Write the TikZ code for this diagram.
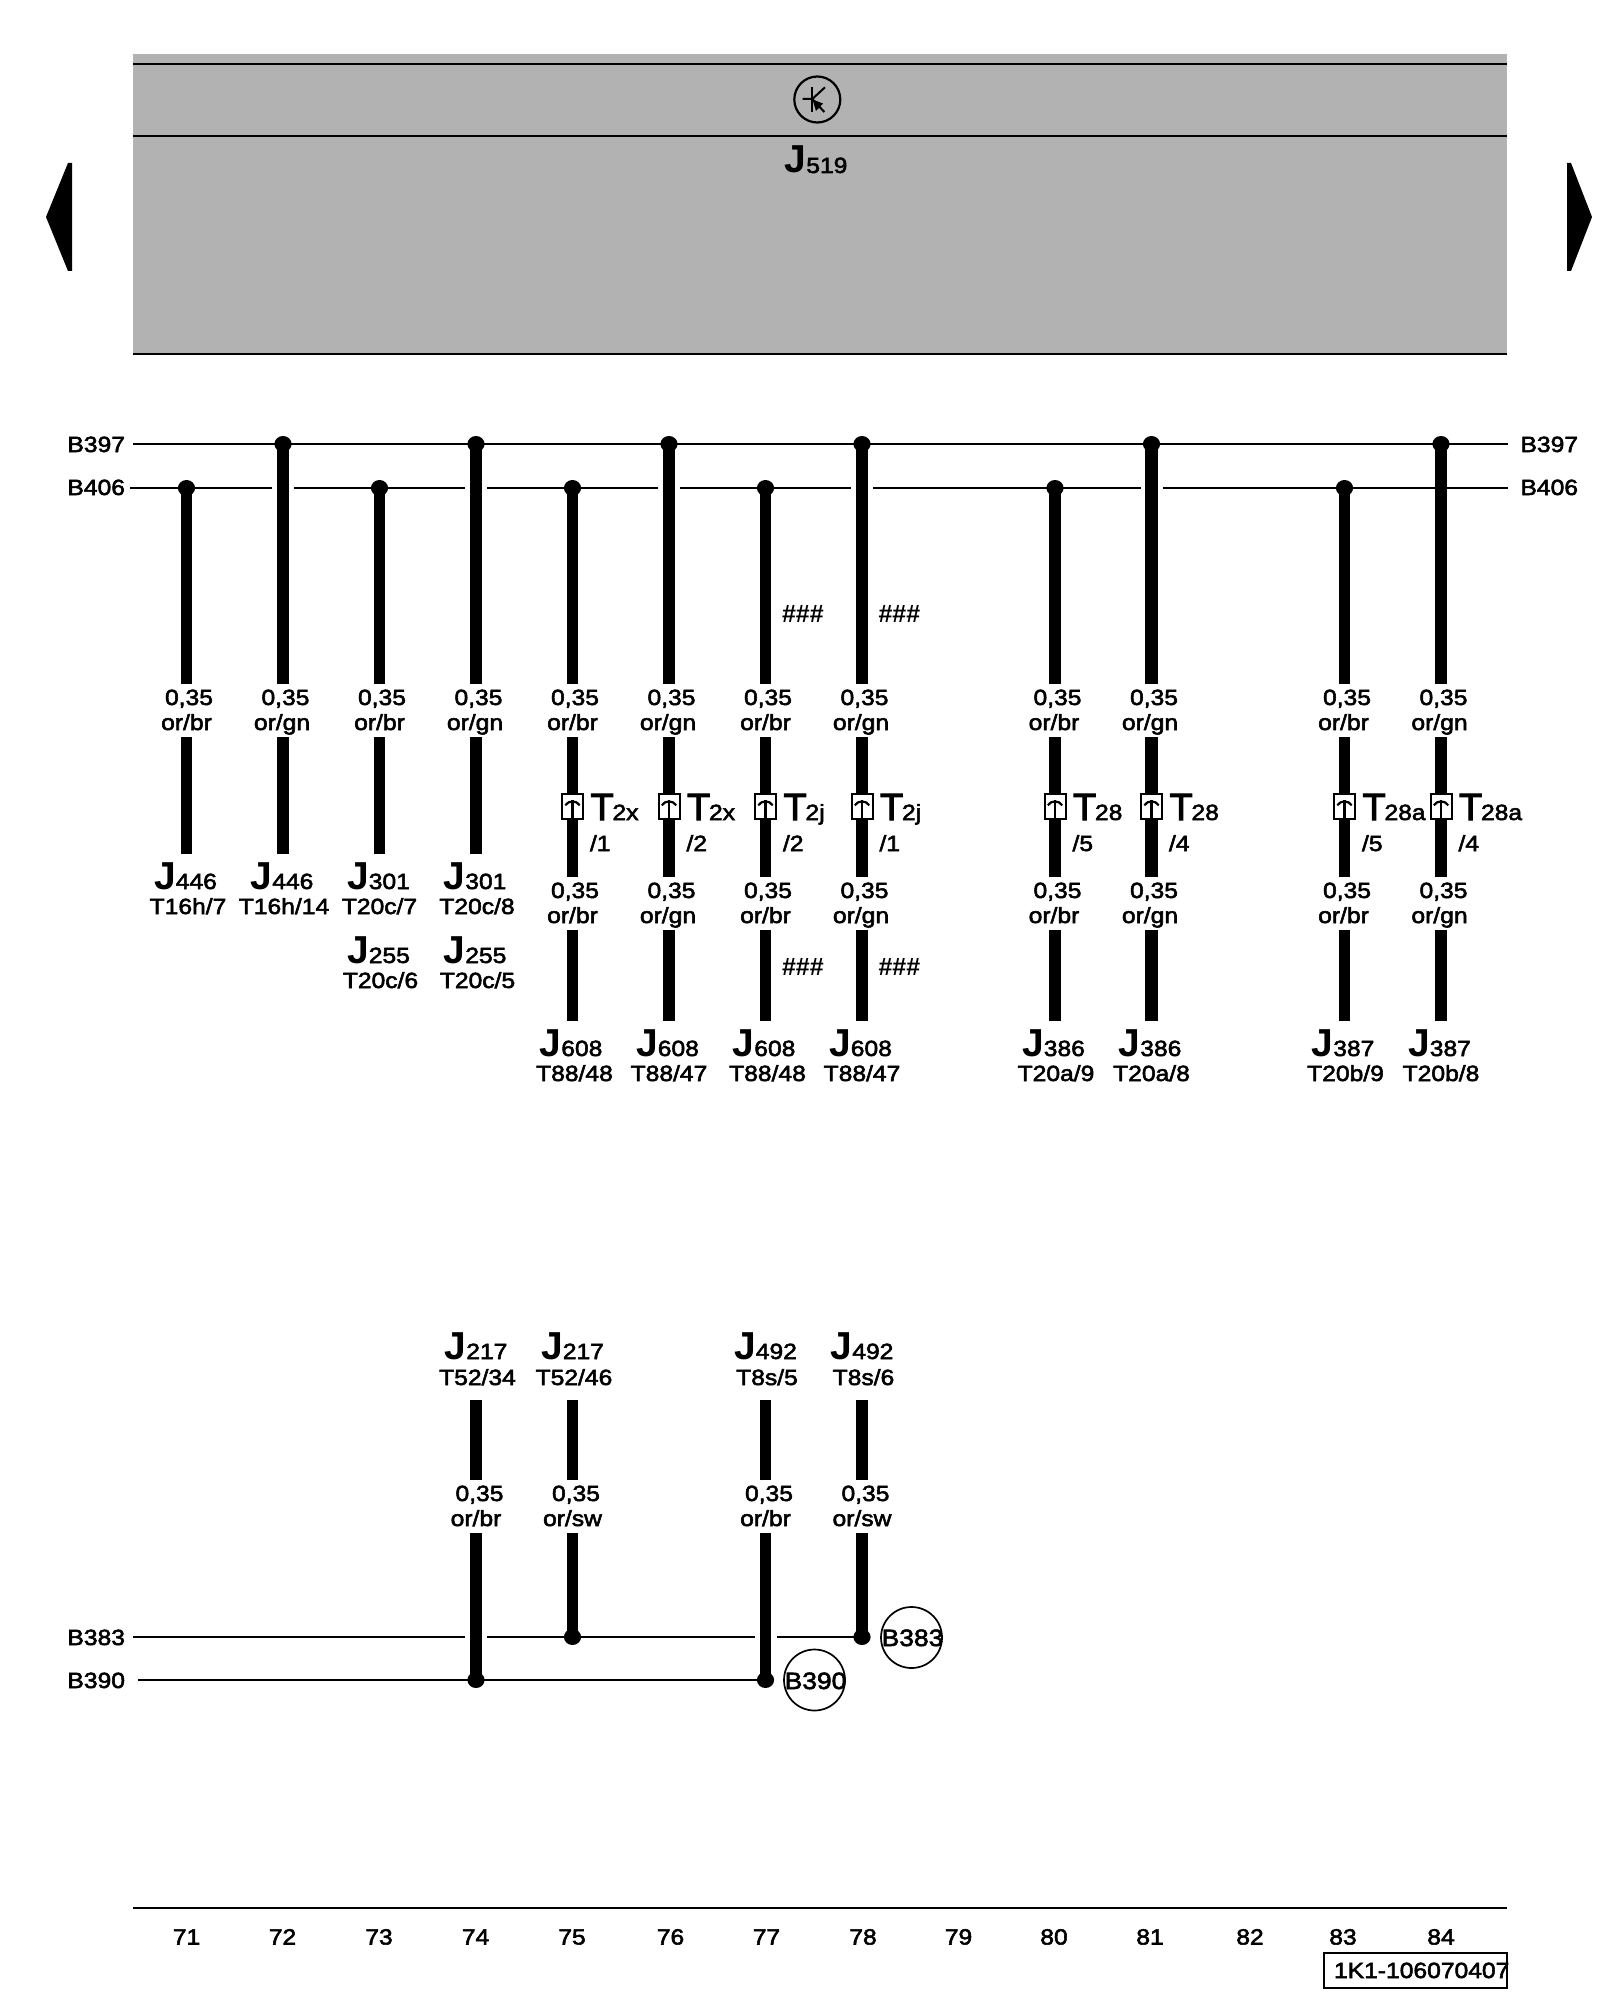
\documentclass[tikz,border=0pt]{standalone}
\usepackage{fontspec}
\setmainfont{Liberation Sans}
\newfontfamily\wfam[FakeStretch=1.12,FakeBold=2.5]{Liberation Sans}
\newfontfamily\hfam{Liberation Sans Bold}
\newfontfamily\jfam{Liberation Sans Bold}
\newfontfamily\tfam[FakeBold=3]{Liberation Sans}
\newcommand{\smalltxt}{\wfam\fontsize{11pt}{12pt}\selectfont}
\newcommand{\hashtxt}{\hfam\fontsize{12.5pt}{13pt}\selectfont}
\newcommand{\bigJ}[1]{{\jfam\fontsize{19.5pt}{20pt}\selectfont J}{\smalltxt #1}}
\newcommand{\bigT}{\tfam\fontsize{19pt}{20pt}\selectfont T}
\definecolor{panelgray}{HTML}{B2B2B2}
\usetikzlibrary{shapes.geometric}
\tikzset{
  lab/.style={inner sep=0pt,outer sep=0pt,font=\smalltxt,anchor=base},
  labl/.style={lab,anchor=base west},
  labr/.style={lab,anchor=base east},
  hashl/.style={inner sep=0pt,outer sep=0pt,font=\hashtxt,anchor=base west},
  bus/.style={line width=1.15pt,black},
  wirebr/.style={line width=5.8pt,black},
  wiregn/.style={line width=6.2pt,black},
  dotn/.style={ellipse,fill=black,inner sep=0pt,minimum width=8.6pt,minimum height=8pt},
  term/.style={draw=black,line width=1pt,fill=white,inner sep=0pt,minimum width=10.5pt,minimum height=12.5pt},
  bub/.style={circle,draw=black,line width=.85pt,inner sep=0pt,minimum size=30.5pt},
}
\newcommand{\termicon}[1]{%
  \node[term] (#1) at (#1top) {};
  \draw[line width=1.1pt] ([yshift=-5.8pt]#1.center) -- ([yshift=3.4pt]#1.center);
  \draw[line width=1.1pt] ([xshift=-3.6pt,yshift=0.6pt]#1.center) .. controls ([xshift=-2pt,yshift=3.2pt]#1.center) and ([xshift=2pt,yshift=3.2pt]#1.center) .. ([xshift=3.6pt,yshift=0.6pt]#1.center);
}
\begin{document}
\begin{tikzpicture}[x=0.5pt,y=-0.5pt]
\useasboundingbox (0,0) rectangle (1600,2000);
% panel
\fill[panelgray] (133,54) rectangle (1507,354);
\coordinate (pl1) at (133,64); \coordinate (pr1) at (1507,64);
\coordinate (pl2) at (133,136); \coordinate (pr2) at (1507,136);
\coordinate (pl3) at (133,354); \coordinate (pr3) at (1507,354);
\draw[bus] (pl1) -- (pr1);
\draw[bus] (pl2) -- (pr2);
\draw[bus] (pl3) -- (pr3);
% transistor symbol
\node[circle,draw=black,line width=1.1pt,inner sep=0pt,minimum size=23pt] (sym) at (817.3,99.5) {};
\draw[line width=1pt] (812.3,87) -- (812.3,111.7);
\draw[line width=1pt] (802.7,99) -- (812.3,99) -- (825,87.3);
\draw[line width=1pt] (812.3,99) -- (824.3,112);
\fill (812.5,99.5) -- (823,103.5) -- (816,111) -- cycle;
\node[lab] (J519) at (816,173) {\bigJ{519}};
% side arrows
\fill (46,217) -- (68,163) -- (72,163) -- (72,271) -- (68,271) -- cycle;
\fill (1592,217) -- (1571,163) -- (1567,163) -- (1567,271) -- (1571,271) -- cycle;
% upper buses
\coordinate (u1l) at (133,444); \coordinate (u1r) at (1508,444);
\draw[bus] (u1l) -- (u1r);
\foreach \a/\b [count=\i] in {130/272, 294/465, 487/658, 680/851, 873/1140.5, 1162.5/1508}{
  \coordinate (s\i a) at (\a,488); \coordinate (s\i b) at (\b,488);
  \draw[bus] (s\i a) -- (s\i b);
}
\node[labr] (B397l) at (125,452) {B397};
\node[labr] (B406l) at (125,495) {B406};
\node[labl] (B397r) at (1520.5,452) {B397};
\node[labl] (B406r) at (1520.5,495) {B406};
% upper columns: common part
\foreach \n/\x/\yb/\st/\cc/\dc in {
  a/186.5/488/wirebr/or\slash br/0, b/283/444/wiregn/or\slash gn/-1,
  c/379.5/488/wirebr/or\slash br/0, d/476/444/wiregn/or\slash gn/-1,
  e/572.5/488/wirebr/or\slash br/0, f/669/444/wiregn/or\slash gn/-1,
  g/765.5/488/wirebr/or\slash br/0, h/862/444/wiregn/or\slash gn/-1,
  i/1055/488/wirebr/or\slash br/-1, j/1151.5/444/wiregn/or\slash gn/-1.5,
  k/1344.5/488/wirebr/or\slash br/-1, l/1441/444/wiregn/or\slash gn/-1.5}{
  \node[dotn] (\n d) at (\x,\yb) {};
  \coordinate (\n e1) at (\x,684);
  \draw[\st] (\n d.center) -- (\n e1);
  \node[lab] (\n g1) at (\x+2.5,705) {0,35};
  \node[lab] (\n c1) at (\x+\dc,730) {\cc};
}
% first-row columns ending early
\foreach \n/\x/\st/\ja/\ta/\tx in {
  a/186.5/wirebr/446/T16h\slash 7/188, b/283/wiregn/446/T16h\slash 14/284,
  c/379.5/wirebr/301/T20c\slash 7/379.5, d/476/wiregn/301/T20c\slash 8/477}{
  \coordinate (\n s2) at (\x,737); \coordinate (\n e2) at (\x,854);
  \draw[\st] (\n s2) -- (\n e2);
  \node[lab] (\n j) at (\x-1,889) {\bigJ{\ja}};
  \node[lab] (\n t) at (\tx,914) {\ta};
}
\node[lab] (cj2) at (378.5,963) {\bigJ{255}};
\node[lab] (ct2) at (380.5,988) {T20c\slash 6};
\node[lab] (dj2) at (475,963) {\bigJ{255}};
\node[lab] (dt2) at (477.5,988) {T20c\slash 5};
% columns with connector
\foreach \n/\x/\st/\cc/\dc/\ja/\ta/\tsub/\pin/\dt in {
  e/572.5/wirebr/or\slash br/0/608/T88\slash 48/2x/\slash 1/2,
  f/669/wiregn/or\slash gn/-1/608/T88\slash 47/2x/\slash 2/0,
  g/765.5/wirebr/or\slash br/0/608/T88\slash 48/2j/\slash 2/2,
  h/862/wiregn/or\slash gn/-1/608/T88\slash 47/2j/\slash 1/0,
  i/1055/wirebr/or\slash br/-1/386/T20a\slash 9/28/\slash 5/1,
  j/1151.5/wiregn/or\slash gn/-1.5/386/T20a\slash 8/28/\slash 4/0,
  k/1344.5/wirebr/or\slash br/-1/387/T20b\slash 9/28a/\slash 5/1,
  l/1441/wiregn/or\slash gn/-1.5/387/T20b\slash 8/28a/\slash 4/0}{
  \coordinate (\n s2) at (\x,737); \coordinate (\n e2) at (\x,877);
  \draw[\st] (\n s2) -- (\n e2);
  \coordinate (\n ctop) at (\x,806.5);
  \termicon{\n c}
  \node[lab,anchor=base west] (\n T) at (\x+18,820) {\bigT};
  \node[labl] (\n Ts) at (\x+40,820) {\tsub};
  \node[labl] (\n P) at (\x+17.5,851) {\pin};
  \node[lab] (\n g2) at (\x+2.5,898) {0,35};
  \node[lab] (\n c2) at (\x+\dc,923) {\cc};
  \coordinate (\n s3) at (\x,930); \coordinate (\n e3) at (\x,1021);
  \draw[\st] (\n s3) -- (\n e3);
  \node[lab] (\n j) at (\x-1.5,1056) {\bigJ{\ja}};
  \node[lab] (\n t) at (\x+\dt,1081) {\ta};
}
\foreach \n/\x in {g/765.5,h/862}{
  \node[hashl] (\n h1) at (\x+16.5,622) {\#\#\#};
  \node[hashl] (\n h2) at (\x+16.5,975) {\#\#\#};
}
% lower buses
\coordinate (m1) at (133,1637); \coordinate (m2) at (465,1637);
\coordinate (m3) at (487,1637); \coordinate (m4) at (755,1637);
\coordinate (m5) at (777,1637);
\coordinate (n1) at (138,1680);
\node[labr] (B383l) at (125,1645) {B383};
\node[labr] (B390l) at (125,1688) {B390};
\node[dotn] (pd) at (476,1680) {};
\node[dotn] (qd) at (572.5,1637) {};
\node[dotn] (rd) at (765.5,1680) {};
\node[dotn] (sd) at (862,1637) {};
\draw[bus] (m1) -- (m2);
\draw[bus] (m3) -- (m4);
\draw[bus] (m5) -- (sd.center);
\draw[bus] (n1) -- (rd.center);
\foreach \n/\x/\st/\cc/\dd/\ja/\ta in {
  p/476/wirebr/or\slash br/pd/217/T52\slash 34,
  q/572.5/wirebr/or\slash sw/qd/217/T52\slash 46,
  r/765.5/wirebr/or\slash br/rd/492/T8s\slash 5,
  s/862/wirebr/or\slash sw/sd/492/T8s\slash 6}{
  \node[lab] (\n j) at (\x,1359) {\bigJ{\ja}};
  \node[lab] (\n t) at (\x+1.5,1385) {\ta};
  \coordinate (\n a) at (\x,1400); \coordinate (\n b) at (\x,1480);
  \draw[\st] (\n a) -- (\n b);
  \node[lab] (\n g) at (\x+3.5,1501) {0,35};
  \node[lab] (\n c) at (\x,1526) {\cc};
  \coordinate (\n f) at (\x,1533);
  \draw[\st] (\n f) -- (\dd.center);
}
\node[bub] (b383) at (911.5,1637.5) {};
\node[lab] (b383t) at (912.5,1646) {\fontsize{11.8pt}{12pt}\selectfont B383};
\node[bub] (b390) at (814.5,1680) {};
\node[lab] (b390t) at (815.5,1689) {\fontsize{11.8pt}{12pt}\selectfont B390};
% footer
\coordinate (fl) at (133,1908); \coordinate (fr) at (1507,1908);
\draw[bus] (fl) -- (fr);
\foreach \t/\x in {71/186.5,72/282.5,73/379,74/475.5,75/572,76/670.5,77/766.5,78/863,79/958.5,80/1054,81/1150,82/1250,83/1343,84/1441}{
  \node[lab] (n\t) at (\x,1944.5) {\t};
}
\node[draw=black,line width=1pt,inner sep=0pt,minimum width=91.5pt,minimum height=17.5pt] (stamp) at (1415.5,1970) {};
\node[labl] (stampt) at (1334,1978) {1K1-106070407};
\end{tikzpicture}
\end{document}
